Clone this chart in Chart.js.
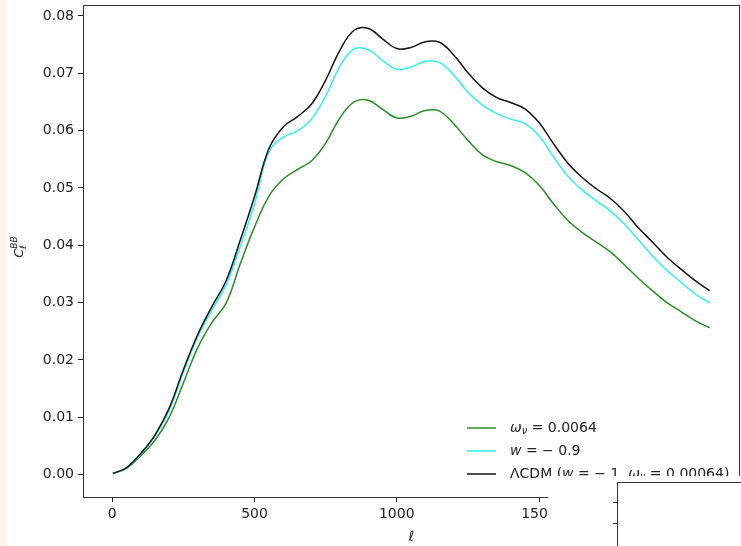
<!DOCTYPE html>
<html>
<head>
<meta charset="utf-8">
<script src="https://cdn.jsdelivr.net/npm/chart.js@4/dist/chart.umd.min.js"></script>
<style>
  html, body { margin: 0; padding: 0; background: #ffffff; }
  canvas { display: block; }
</style>
</head>
<body>
<canvas id="cl" width="741" height="546"></canvas>
<script>
// Multipoles
const ell = [2, 50, 100, 150, 200, 250, 300, 350, 400, 450, 500, 550, 600, 650, 700,
  750, 800, 850, 900, 950, 1000, 1050, 1100, 1150, 1200, 1250, 1300, 1350, 1400,
  1450, 1500, 1550, 1600, 1650, 1700, 1750, 1800, 1850, 1900, 1950, 2000, 2050, 2100];

// C_l^BB for omega_nu = 0.0064
const clOmegaNu = [0.0002, 0.0011, 0.0033, 0.0060, 0.0100, 0.0160, 0.0221, 0.0265, 0.0299,
  0.0368, 0.0432, 0.0485, 0.0515, 0.0532, 0.0547, 0.0578, 0.0622, 0.0650, 0.0653, 0.0637,
  0.0622, 0.0625, 0.0635, 0.0634, 0.0612, 0.0583, 0.0558, 0.0546, 0.0539, 0.0527, 0.0505,
  0.0473, 0.0444, 0.0423, 0.0406, 0.0389, 0.0366, 0.0342, 0.0320, 0.0300, 0.0284, 0.0268, 0.0256];

// C_l^BB for w = -0.9
const clWm09 = [0.0002, 0.0012, 0.0036, 0.0068, 0.0113, 0.0179, 0.0240, 0.0287, 0.0331,
  0.0398, 0.0472, 0.0563, 0.0588, 0.0599, 0.0620, 0.0660, 0.0712, 0.0742, 0.0741, 0.0722,
  0.0707, 0.0711, 0.0721, 0.0719, 0.0697, 0.0667, 0.0645, 0.0630, 0.0620, 0.0612, 0.0591,
  0.0555, 0.0521, 0.0497, 0.0478, 0.0460, 0.0437, 0.0409, 0.0381, 0.0356, 0.0335, 0.0315, 0.0299];

// C_l^BB for LCDM (w = -1, omega_nu = 0.00064)
const clLcdm = [0.0002, 0.0012, 0.0037, 0.0069, 0.0116, 0.0183, 0.0244, 0.0293, 0.0338,
  0.0409, 0.0485, 0.0568, 0.0606, 0.0624, 0.0646, 0.0688, 0.0740, 0.0775, 0.0778, 0.0760,
  0.0743, 0.0745, 0.0755, 0.0754, 0.0732, 0.0701, 0.0675, 0.0658, 0.0649, 0.0638, 0.0614,
  0.0578, 0.0544, 0.0519, 0.0499, 0.0482, 0.0459, 0.0430, 0.0405, 0.0379, 0.0358, 0.0338, 0.0321];

const xTicks = [0, 500, 1000, 1500, 2000];
const yTicks = [0.00, 0.01, 0.02, 0.03, 0.04, 0.05, 0.06, 0.07, 0.08];

const GREEN = '#2b8c2b';
const CYAN = '#2ef0f0';
const BLACK = '#141414';
const FONT = "'DejaVu Sans', 'Liberation Sans', sans-serif";

const toPoints = ys => ell.map((l, i) => ({ x: l, y: ys[i] }));

// Legend entries as math-like text runs: [text, style]
const legendRows = [
  { color: GREEN, parts: [['ω', 'i'], ['ν', 'sub'], [' = 0.0064', '']] },
  { color: CYAN, parts: [['w', 'i'], [' = − 0.9', '']] },
  { color: BLACK, parts: [['ΛCDM (', ''], ['w', 'i'], [' = − 1, ', ''], ['ω', 'i'], ['ν', 'sub'], [' = 0.00064)', '']] }
];

function drawRuns(ctx, x, y, parts, size) {
  let cx = x;
  ctx.textBaseline = 'middle';
  ctx.textAlign = 'left';
  for (const [txt, st] of parts) {
    let fs = size, dy = 0, style = '';
    if (st === 'i') style = 'italic ';
    if (st === 'sub') { style = 'italic '; fs = size * 0.7; dy = size * 0.28; }
    if (st === 'sup') { style = 'italic '; fs = size * 0.7; dy = -size * 0.38; }
    ctx.font = style + fs + 'px ' + FONT;
    ctx.fillText(txt, cx, y + dy);
    cx += ctx.measureText(txt).width;
  }
  return cx - x;
}

const decorations = {
  id: 'decorations',
  beforeDraw(chart) {
    const ctx = chart.ctx;
    ctx.save();
    ctx.fillStyle = '#ffffff';
    ctx.fillRect(0, 0, chart.width, chart.height);
    ctx.fillStyle = '#fcf7ea';
    ctx.fillRect(0, 0, 6, chart.height);
    ctx.restore();
  },
  afterDatasetsDraw(chart) {
    const ctx = chart.ctx;
    const a = chart.chartArea;
    ctx.save();
    // axes frame
    ctx.strokeStyle = '#333333';
    ctx.lineWidth = 1;
    ctx.strokeRect(Math.round(a.left) + 0.5, Math.round(a.top) + 0.5,
      Math.round(a.right - a.left), Math.round(a.bottom - a.top));

    // legend
    const lx = 467, tx = 510, y0 = 428, dy = 23;
    legendRows.forEach((row, i) => {
      const y = y0 + i * dy;
      ctx.strokeStyle = row.color;
      ctx.lineWidth = 1.5;
      ctx.beginPath();
      ctx.moveTo(lx, y);
      ctx.lineTo(lx + 29, y);
      ctx.stroke();
      ctx.fillStyle = '#222222';
      drawRuns(ctx, tx, y, row.parts, 14);
    });

    // y-axis title C_l^BB
    ctx.save();
    ctx.translate(20, 247);
    ctx.rotate(-Math.PI / 2);
    ctx.fillStyle = '#222222';
    ctx.textBaseline = 'middle';
    ctx.font = 'italic 13px ' + FONT;
    const wC = ctx.measureText('C').width;
    ctx.font = 'italic 9px ' + FONT;
    const wB = ctx.measureText('BB').width;
    const start = -(wC + wB) / 2;
    ctx.font = 'italic 13px ' + FONT;
    ctx.fillText('C', start, 0);
    ctx.font = 'italic 9px ' + FONT;
    ctx.fillText('BB', start + wC, -5);
    ctx.fillText('ℓ', start + wC, 4);
    ctx.restore();

    // x-axis title
    ctx.fillStyle = '#222222';
    ctx.font = 'italic 14px ' + FONT;
    ctx.textAlign = 'center';
    ctx.textBaseline = 'middle';
    ctx.fillText('ℓ', (a.left + a.right) / 2 + 0.5, 537);
    ctx.restore();
  },
  afterDraw(chart) {
    // neighbouring panel overlapping the lower right corner
    const ctx = chart.ctx;
    ctx.save();
    ctx.fillStyle = '#ffffff';
    ctx.fillRect(548, 476, chart.width - 548, chart.height - 476);
    ctx.strokeStyle = '#333333';
    ctx.lineWidth = 1;
    ctx.beginPath();
    ctx.moveTo(617.5, chart.height);
    ctx.lineTo(617.5, 482.5);
    ctx.lineTo(chart.width, 482.5);
    ctx.moveTo(613, 502.5); ctx.lineTo(617.5, 502.5);
    ctx.moveTo(613, 523.5); ctx.lineTo(617.5, 523.5);
    ctx.stroke();
    ctx.restore();
  }
};

Chart.defaults.font.family = FONT;
Chart.defaults.font.size = 14;
Chart.defaults.color = '#222222';

new Chart(document.getElementById('cl'), {
  type: 'line',
  data: {
    datasets: [
      { label: 'ω_ν = 0.0064', data: toPoints(clOmegaNu), borderColor: GREEN, order: 3 },
      { label: 'w = −0.9', data: toPoints(clWm09), borderColor: CYAN, order: 2 },
      { label: 'ΛCDM (w = −1, ω_ν = 0.00064)', data: toPoints(clLcdm), borderColor: BLACK, order: 1 }
    ]
  },
  options: {
    responsive: false,
    animation: false,
    elements: {
      line: { borderWidth: 1.5, tension: 0.4, fill: false },
      point: { radius: 0, hoverRadius: 0 }
    },
    layout: { padding: { top: 5, right: 2, left: 0, bottom: 0 } },
    plugins: {
      legend: { display: false },
      tooltip: { enabled: false }
    },
    scales: {
      x: {
        type: 'linear',
        min: -103,
        max: 2203,
        afterBuildTicks: s => { s.ticks = xTicks.map(v => ({ value: v })); },
        afterFit: s => { s.height = 49; s.paddingLeft = 0; s.paddingRight = 0; },
        grid: { drawOnChartArea: false, drawTicks: true, tickLength: 5, tickColor: '#222222', tickWidth: 1 },
        border: { display: false },
        ticks: { padding: 4, maxRotation: 0, autoSkip: false, callback: v => String(v), color: '#222222' }
      },
      y: {
        type: 'linear',
        min: -0.0039,
        max: 0.0819,
        afterBuildTicks: s => { s.ticks = yTicks.map(v => ({ value: v })); },
        afterFit: s => { s.width = 83; s.paddingTop = 0; s.paddingBottom = 0; },
        grid: { drawOnChartArea: false, drawTicks: true, tickLength: 5, tickColor: '#222222', tickWidth: 1 },
        border: { display: false },
        ticks: { padding: 4, autoSkip: false, callback: v => v.toFixed(2), color: '#222222' }
      }
    }
  },
  plugins: [decorations]
});
</script>
</body>
</html>
